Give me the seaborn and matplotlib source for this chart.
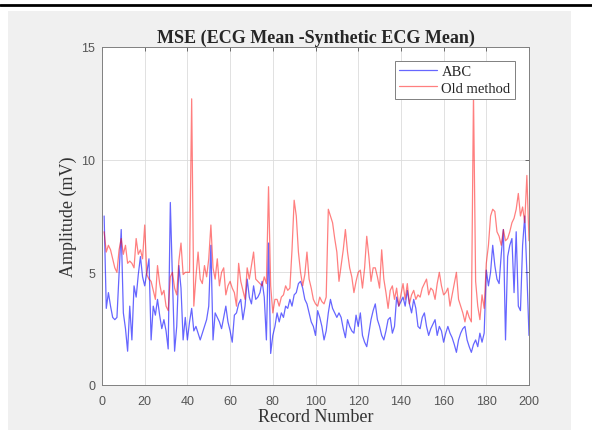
import numpy as np
import pandas as pd
import seaborn as sns
import matplotlib.pyplot as plt
from matplotlib.patches import Rectangle
from matplotlib.lines import Line2D

# record numbers and the two error series
records = np.arange(1, 201)

abc = [
    7.5, 3.4, 4.1, 3.5, 3.0, 2.9, 3.0, 5.0, 6.9, 3.2,
    2.5, 1.5, 3.5, 2.0, 4.4, 3.9, 4.9, 5.7, 4.8, 4.4,
    5.0, 5.6, 2.0, 3.5, 3.1, 3.8, 3.1, 2.5, 2.9, 2.4,
    1.6, 8.1, 4.7, 1.5, 2.6, 5.3, 4.3, 2.0, 3.0, 2.0,
    2.8, 3.4, 2.4, 2.6, 2.3, 2.0, 2.3, 2.6, 2.9, 3.5,
    6.2, 2.0, 3.2, 3.0, 2.8, 2.5, 3.0, 3.5, 2.8, 2.4,
    1.9, 3.1, 3.2, 3.6, 3.8, 2.9, 3.5, 4.7, 3.9, 3.6,
    4.4, 3.8, 3.9, 4.1, 4.6, 3.9, 2.0, 6.3, 1.4, 2.2,
    2.6, 3.2, 2.8, 3.2, 3.0, 3.5, 3.4, 3.8, 3.5, 4.0,
    4.1, 4.5, 4.6, 4.3, 3.8, 3.6, 3.2, 2.8, 2.6, 2.2,
    3.3, 3.0, 2.6, 2.0, 2.4, 3.2, 3.8, 3.4, 3.2, 3.0,
    3.2, 3.0, 2.5, 2.1, 2.9, 2.6, 2.4, 2.3, 3.1, 2.6,
    3.2, 2.2, 1.9, 1.7, 2.3, 2.9, 3.3, 3.6, 2.9, 2.6,
    2.2, 2.0, 2.4, 2.9, 3.0, 2.3, 2.6, 3.9, 3.5, 3.7,
    3.9, 3.5, 4.2, 3.6, 3.2, 3.8, 3.4, 2.6, 2.5, 3.0,
    3.2, 2.6, 2.2, 2.5, 2.7, 2.9, 2.2, 2.6, 2.4, 1.9,
    2.3, 2.6, 2.3, 2.1, 1.8, 1.45, 2.0, 2.3, 2.5, 2.6,
    2.0, 1.7, 1.45, 1.8, 2.0, 1.7, 2.3, 1.9, 2.3, 5.1,
    4.4, 5.0, 6.2, 5.3, 4.7, 4.5, 5.8, 6.9, 2.0, 5.7,
    6.2, 6.5, 4.1, 6.8, 3.5, 3.3, 6.2, 7.5, 5.0, 2.2,
]

old_method = [
    6.8, 5.9, 6.2, 6.0, 5.6, 5.2, 5.0, 6.0, 6.5, 5.8,
    6.2, 5.4, 5.5, 5.4, 5.2, 6.5, 5.8, 6.0, 5.6, 7.1,
    4.9, 4.7, 4.6, 4.2, 3.8, 5.3, 4.5, 4.0, 4.2, 3.5,
    3.3, 4.8, 5.0, 4.3, 4.0, 5.5, 6.3, 4.9, 5.0, 5.0,
    5.0, 12.7, 3.5, 4.8, 5.9, 4.7, 4.5, 5.3, 4.8, 5.6,
    7.1, 5.2, 4.7, 5.6, 4.4, 5.0, 5.2, 4.0, 4.4, 4.6,
    4.3, 4.1, 3.5, 5.4, 4.6, 4.2, 3.8, 5.2, 4.7, 5.3,
    5.9, 4.7, 4.6, 4.5, 4.4, 4.8, 4.5, 8.8, 4.4, 3.2,
    3.8, 3.8, 3.5, 3.9, 4.0, 4.4, 4.2, 4.3, 6.0, 8.2,
    7.5, 5.9, 5.0, 4.4, 4.9, 5.9, 4.7, 4.3, 3.8, 3.6,
    3.5, 3.9, 3.7, 3.6, 3.9, 7.8, 7.5, 7.2, 6.5, 5.9,
    4.6, 5.3, 6.0, 6.9, 5.9, 5.2, 4.8, 4.1, 4.6, 5.0,
    5.1, 4.3, 5.2, 6.6, 5.7, 4.6, 5.2, 5.2, 4.8, 4.3,
    6.0, 4.7, 4.1, 3.4, 4.2, 4.4, 3.8, 4.3, 3.5, 4.0,
    4.5, 3.8, 4.5, 3.6, 4.0, 4.2, 3.8, 4.0, 3.9, 4.3,
    4.5, 4.7, 4.0, 4.3, 4.2, 3.8, 4.5, 5.0, 4.4, 4.0,
    4.1, 4.3, 3.5, 4.0, 4.5, 5.0, 3.8, 3.5, 3.2, 2.8,
    3.3, 3.0, 2.8, 12.9, 4.6, 3.5, 2.9, 4.0, 3.4, 5.4,
    6.2, 7.5, 7.8, 7.7, 6.8, 6.6, 6.2, 6.9, 6.4, 6.5,
    6.8, 7.2, 7.4, 7.8, 8.5, 7.5, 7.9, 7.2, 9.3, 6.4,
]

series_names = ['ABC', 'Old method']

df = pd.DataFrame({
    'Record Number': np.concatenate([records, records]),
    'Amplitude': np.concatenate([abc, old_method]),
    'Method': [series_names[0]] * len(abc) + [series_names[1]] * len(old_method),
})

sns.set_style('white')
serif = ['Liberation Serif', 'DejaVu Serif']
sans = ['Liberation Sans', 'DejaVu Sans']

fig = plt.figure(figsize=(5.92, 4.31), dpi=100, facecolor='white')
# MATLAB-style grey figure panel and black rule on top
fig.patches.append(Rectangle((8 / 592, 0), 563 / 592, 1 - 12 / 431,
                             transform=fig.transFigure, facecolor='#f0f0f0',
                             edgecolor='none', zorder=-10))
fig.add_artist(Line2D([0, 1], [1 - 6 / 431, 1 - 6 / 431], transform=fig.transFigure,
                      color='black', linewidth=2))

ax = fig.add_axes([102 / 592, 1 - 386 / 431, 427 / 592, 338 / 431])
ax.set_facecolor('white')

sns.lineplot(data=df, x='Record Number', y='Amplitude', hue='Method',
             palette={'ABC': (0.0, 0.0, 1.0, 0.6), 'Old method': (1.0, 0.0, 0.0, 0.5)},
             linewidth=0.9, ax=ax)

ax.set_xlim(0, 200)
ax.set_ylim(0, 15)
ax.set_xticks(range(0, 201, 20))
ax.set_yticks([0, 5, 10, 15])
ax.grid(True, color='#dcdcdc', linewidth=0.6)
ax.tick_params(direction='in', length=3, top=True, right=True, colors='#555555',
               labelsize=9, width=0.6)
ax.tick_params(axis='x', pad=7)
ax.tick_params(axis='y', pad=5)
for lbl in ax.get_xticklabels() + ax.get_yticklabels():
    lbl.set_family(sans)
for sp in ax.spines.values():
    sp.set_color('#808080')
    sp.set_linewidth(0.7)

ax.set_title('MSE (ECG Mean -Synthetic ECG Mean)', family=serif, fontweight='bold',
             fontsize=13, pad=4)
ax.set_xlabel('Record Number', family=serif, fontsize=13, color='#333333', labelpad=1)
ax.set_ylabel('Amplitude (mV)', family=serif, fontsize=13, color='#333333', labelpad=3)

leg = ax.legend(loc='upper right', bbox_to_anchor=(0.967, 0.959), borderaxespad=0,
                prop={'family': serif, 'size': 10.5}, fancybox=False, framealpha=1,
                handlelength=2.6, handletextpad=0.3, borderpad=0.3, labelspacing=0.2)
leg.get_frame().set_edgecolor('#808080')
leg.get_frame().set_linewidth(0.7)

fig.savefig('out.png', dpi=100)
